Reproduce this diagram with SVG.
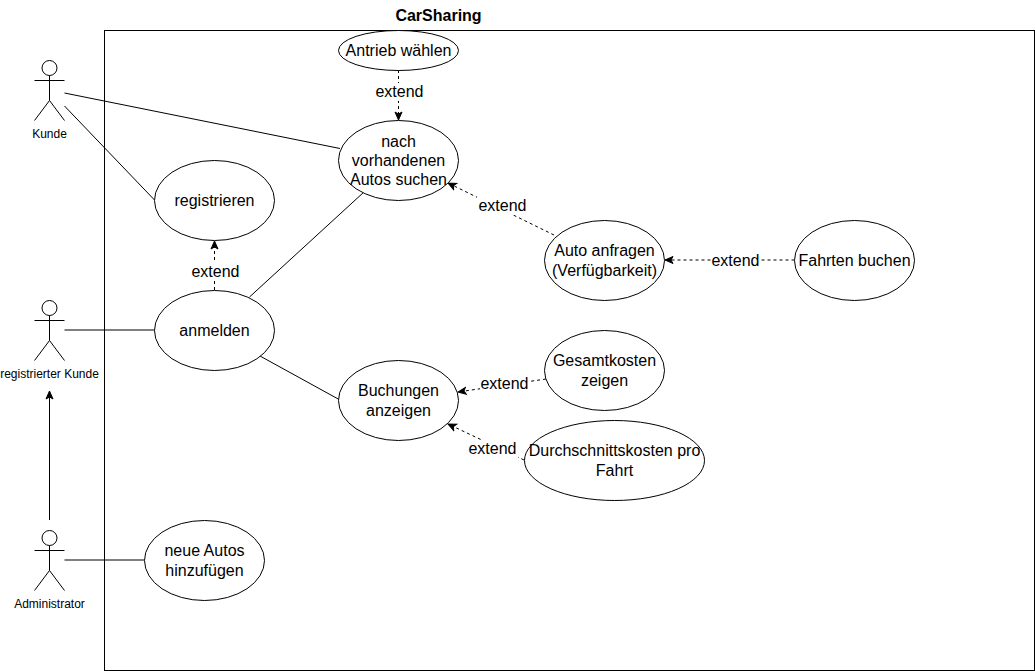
<svg xmlns="http://www.w3.org/2000/svg" width="1035" height="671" viewBox="0 0 1035 671">
<style>
text{font-family:"Liberation Sans",Arial,Helvetica,sans-serif;fill:#000;text-anchor:middle}
.u{font-size:16px}
.a{font-size:12px}
.l{font-size:16px}
.s{fill:none;stroke:#000;stroke-width:1}
.e{fill:#fff;stroke:#000;stroke-width:1}
.d{fill:none;stroke:#000;stroke-width:1;stroke-dasharray:3 3}
</style>
<defs>
<marker id="arrow" markerUnits="userSpaceOnUse" markerWidth="12" markerHeight="12" refX="9" refY="5" orient="auto">
<path d="M1 1.500 L9 5 L1 8.500 L3 5 Z" fill="#000" stroke="#000" stroke-width="1"/>
</marker>
<g id="actor">
<circle cx="15" cy="7.500" r="7.500" class="s"/>
<path d="M15 15V40M0 20H30M15 40L0 60M15 40L30 60" class="s"/>
</g>
</defs>
<rect id="system" x="104.500" y="30.500" width="930" height="640" fill="#fff" stroke="#000"/>
<text x="438.500" y="21" font-size="16" font-weight="bold">CarSharing</text>
<g id="connectors">
<path class="s" d="M64.500 93L340 148.500"/>
<path class="s" d="M64.500 106L154.500 200"/>
<path class="s" d="M64.500 330H154.500"/>
<path class="s" d="M249.500 297L364 192"/>
<path class="s" d="M260 356L340 400"/>
<path class="s" d="M64.500 560H144.500"/>
<path class="s" d="M49.500 520V391" marker-end="url(#arrow)"/>
<path class="d" d="M214.500 290V241" marker-end="url(#arrow)"/>
<path class="d" d="M398.500 70V120" marker-end="url(#arrow)"/>
<path class="d" d="M554 235L448 183" marker-end="url(#arrow)"/>
<path class="d" d="M794.500 260H665" marker-end="url(#arrow)"/>
<path class="d" d="M546 379L458 392" marker-end="url(#arrow)"/>
<path class="d" d="M524 460L448 424" marker-end="url(#arrow)"/>
<rect x="190" y="263" width="50" height="18" fill="#fff"/>
<text class="l" x="215.500" y="277">extend</text>
<rect x="374" y="83" width="51" height="18" fill="#fff"/>
<text class="l" x="399.500" y="97">extend</text>
<rect x="477" y="197" width="51" height="18" fill="#fff"/>
<text class="l" x="502.500" y="211">extend</text>
<rect x="711" y="252" width="50" height="18" fill="#fff"/>
<text class="l" x="735.500" y="266">extend</text>
<rect x="480" y="375" width="49" height="18" fill="#fff"/>
<text class="l" x="504.500" y="389">extend</text>
<rect x="468" y="440" width="50" height="18" fill="#fff"/>
<text class="l" x="492.500" y="454">extend</text>
</g>
<g id="actor-kunde"><use href="#actor" x="34.500" y="60.500"/><text class="a" x="49.500" y="138">Kunde</text></g>
<g id="actor-registriert"><use href="#actor" x="34.500" y="300.500"/><text class="a" x="49.500" y="378">registrierter Kunde</text></g>
<g id="actor-admin"><use href="#actor" x="34.500" y="530.500"/><text class="a" x="49.500" y="608">Administrator</text></g>
<g id="uc-antrieb"><ellipse class="e" cx="398.500" cy="50.500" rx="60" ry="20"/><text class="u" x="398.500" y="56">Antrieb wählen</text></g>
<g id="uc-suchen"><ellipse class="e" cx="398.500" cy="160.500" rx="60" ry="40"/><text class="u" x="398.500" y="147">nach</text><text class="u" x="398.500" y="166">vorhandenen</text><text class="u" x="398.500" y="185">Autos suchen</text></g>
<g id="uc-registrieren"><ellipse class="e" cx="214.500" cy="200.500" rx="60" ry="40"/><text class="u" x="214.500" y="206">registrieren</text></g>
<g id="uc-anfragen"><ellipse class="e" cx="604.500" cy="260.500" rx="60" ry="40"/><text class="u" x="604.500" y="256">Auto anfragen</text><text class="u" x="604.500" y="276">(Verfügbarkeit)</text></g>
<g id="uc-fahrten"><ellipse class="e" cx="854.500" cy="260.500" rx="60" ry="40"/><text class="u" x="854.500" y="266">Fahrten buchen</text></g>
<g id="uc-anmelden"><ellipse class="e" cx="214.500" cy="330.500" rx="60" ry="40"/><text class="u" x="214.500" y="336">anmelden</text></g>
<g id="uc-gesamt"><ellipse class="e" cx="604.500" cy="370.500" rx="60" ry="40"/><text class="u" x="604.500" y="366">Gesamtkosten</text><text class="u" x="604.500" y="386">zeigen</text></g>
<g id="uc-buchungen"><ellipse class="e" cx="398.500" cy="400.500" rx="60" ry="40"/><text class="u" x="398.500" y="396">Buchungen</text><text class="u" x="398.500" y="416">anzeigen</text></g>
<g id="uc-durchschnitt"><ellipse class="e" cx="614.500" cy="460.500" rx="90" ry="40"/><text class="u" x="614.500" y="456">Durchschnittskosten pro</text><text class="u" x="614.500" y="476">Fahrt</text></g>
<g id="uc-neue"><ellipse class="e" cx="204.500" cy="560.500" rx="60" ry="40"/><text class="u" x="204.500" y="556">neue Autos</text><text class="u" x="204.500" y="576">hinzufügen</text></g>
</svg>
